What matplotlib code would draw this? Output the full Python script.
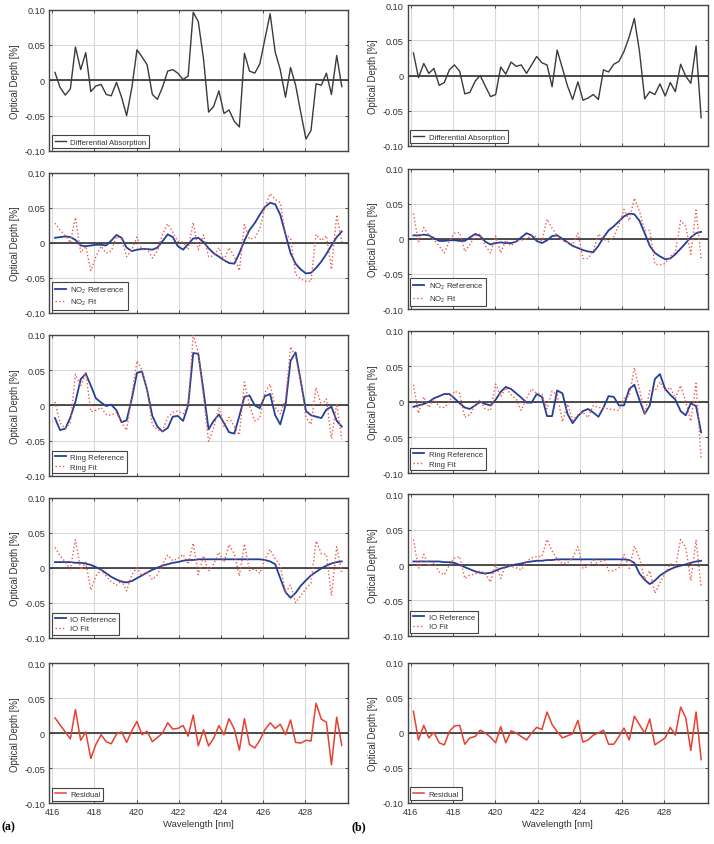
import numpy as np
import matplotlib
matplotlib.use('Agg')
import matplotlib.pyplot as plt

plt.rcParams['font.family'] = ['Liberation Sans', 'DejaVu Sans']
plt.rcParams['mathtext.fontset'] = 'custom'
plt.rcParams['mathtext.rm'] = 'Liberation Sans'
plt.rcParams['mathtext.it'] = 'Liberation Sans:italic'

# wavelength grid of the fit window [nm]
wavelength = [416.13, 416.37, 416.62, 416.86, 417.10, 417.35, 417.59, 417.83, 418.07, 418.32,
              418.56, 418.80, 419.05, 419.29, 419.53, 419.78, 420.02, 420.26, 420.50, 420.75,
              420.99, 421.23, 421.48, 421.72, 421.96, 422.21, 422.45, 422.69, 422.93, 423.18,
              423.42, 423.66, 423.91, 424.15, 424.39, 424.64, 424.88, 425.12, 425.36, 425.61,
              425.85, 426.09, 426.34, 426.58, 426.82, 427.07, 427.31, 427.55, 427.79, 428.04,
              428.28, 428.52, 428.77, 429.01, 429.25, 429.50, 429.74]

# ---- (a) ----
diff_abs_a = [0.011, -0.010, -0.021, -0.012, 0.047, 0.015, 0.039, -0.016, -0.008, -0.006,
              -0.020, -0.022, -0.003, -0.024, -0.050, -0.010, 0.043, 0.033, 0.022, -0.020,
              -0.027, -0.010, 0.013, 0.015, 0.010, 0.001, 0.006, 0.096, 0.083, 0.030,
              -0.045, -0.037, -0.015, -0.047, -0.042, -0.058, -0.066, 0.038, 0.013, 0.010,
              0.023, 0.058, 0.094, 0.040, 0.015, -0.024, 0.018, -0.007, -0.045, -0.083,
              -0.071, -0.005, -0.007, 0.010, -0.020, 0.035, -0.009]
no2_ref_a = [0.007, 0.008, 0.009, 0.008, 0.004, -0.004, -0.005, -0.004, -0.003, -0.003,
             -0.004, 0.003, 0.011, 0.007, -0.007, -0.012, -0.010, -0.009, -0.009, -0.010,
             -0.007, 0.002, 0.012, 0.008, -0.005, -0.010, -0.002, 0.006, 0.007, 0.001,
             -0.008, -0.015, -0.020, -0.025, -0.029, -0.030, -0.015, 0.003, 0.018, 0.028,
             0.040, 0.051, 0.057, 0.055, 0.040, 0.012, -0.015, -0.030, -0.038, -0.044,
             -0.043, -0.036, -0.027, -0.016, -0.004, 0.008, 0.016]
no2_fit_a = [0.028, 0.018, 0.010, 0.000, 0.036, -0.014, -0.005, -0.040, -0.020, -0.005,
             -0.015, -0.012, 0.009, 0.005, -0.020, -0.010, 0.008, -0.010, -0.009, -0.022,
             -0.012, 0.012, 0.027, 0.015, 0.002, 0.001, -0.010, 0.029, -0.010, 0.011,
             -0.020, -0.019, -0.007, -0.025, -0.007, -0.020, -0.040, 0.026, 0.005, 0.007,
             0.020, 0.050, 0.070, 0.062, 0.057, 0.012, 0.006, -0.045, -0.052, -0.055,
             -0.055, 0.012, 0.003, 0.010, -0.038, 0.040, 0.001]
ring_ref_a = [-0.018, -0.035, -0.033, -0.017, 0.005, 0.037, 0.045, 0.028, 0.010, 0.004,
              -0.001, 0.001, -0.007, -0.024, -0.021, 0.010, 0.046, 0.048, 0.022, -0.015,
              -0.030, -0.037, -0.032, -0.016, -0.015, -0.022, 0.000, 0.074, 0.073, 0.020,
              -0.034, -0.022, -0.013, -0.025, -0.038, -0.040, -0.015, 0.012, 0.014, 0.000,
              -0.004, 0.013, 0.016, -0.014, -0.027, 0.000, 0.063, 0.075, 0.035, -0.008,
              -0.014, -0.016, -0.018, -0.006, -0.002, -0.022, -0.030]
ring_fit_a = [0.005, -0.025, -0.033, -0.024, 0.044, 0.027, 0.047, -0.009, -0.007, -0.003,
              -0.013, -0.014, -0.010, -0.025, -0.035, 0.015, 0.063, 0.050, 0.022, -0.027,
              -0.035, -0.036, -0.017, -0.010, -0.008, -0.012, 0.000, 0.100, 0.075, 0.010,
              -0.051, -0.032, -0.003, -0.030, -0.017, -0.030, -0.042, 0.033, 0.000, -0.022,
              -0.018, 0.018, 0.030, -0.003, -0.012, 0.008, 0.083, 0.068, 0.035, -0.017,
              -0.027, 0.025, 0.000, 0.009, -0.047, 0.002, -0.048]
io_ref_a = [0.008, 0.008, 0.008, 0.008, 0.007, 0.007, 0.006, 0.004, 0.001, -0.003,
            -0.008, -0.013, -0.017, -0.020, -0.021, -0.019, -0.015, -0.011, -0.007, -0.003,
            0.000, 0.003, 0.005, 0.007, 0.008, 0.010, 0.011, 0.011, 0.012, 0.012,
            0.012, 0.012, 0.012, 0.012, 0.012, 0.012, 0.012, 0.012, 0.012, 0.012,
            0.012, 0.011, 0.009, 0.005, -0.015, -0.035, -0.043, -0.036, -0.026, -0.018,
            -0.011, -0.006, -0.001, 0.003, 0.006, 0.008, 0.009]
io_fit_a = [0.029, 0.017, 0.008, -0.002, 0.040, -0.003, 0.008, -0.032, -0.012, -0.003,
            -0.012, -0.020, -0.025, -0.018, -0.033, -0.010, 0.000, -0.012, -0.005, -0.017,
            -0.010, 0.005, 0.018, 0.010, 0.013, 0.019, 0.005, 0.035, -0.010, 0.017,
            -0.005, 0.005, 0.022, 0.008, 0.033, 0.020, -0.012, 0.034, -0.004, -0.002,
            -0.008, 0.012, 0.026, 0.013, 0.003, -0.035, -0.025, -0.050, -0.040, -0.030,
            -0.022, 0.038, 0.020, 0.019, -0.040, 0.030, -0.007]
resid_a = [0.022, 0.012, 0.002, -0.008, 0.034, -0.010, 0.002, -0.036, -0.016, -0.002,
           -0.012, -0.015, -0.001, 0.002, -0.013, 0.004, 0.017, -0.002, 0.003, -0.012,
           -0.006, 0.000, 0.015, 0.006, 0.007, 0.011, -0.004, 0.026, -0.018, 0.005,
           -0.018, -0.007, 0.011, -0.002, 0.021, 0.006, -0.024, 0.021, -0.016, -0.021,
           -0.010, 0.005, 0.015, 0.007, 0.013, -0.002, 0.019, -0.013, -0.014, -0.010,
           -0.011, 0.043, 0.020, 0.016, -0.045, 0.023, -0.017]

# ---- (b) ----
diff_abs_b = [0.032, -0.003, 0.017, 0.003, 0.010, -0.014, -0.010, 0.008, 0.015, 0.006,
              -0.026, -0.024, -0.008, 0.000, -0.015, -0.030, -0.027, 0.012, 0.002, 0.019,
              0.013, 0.015, 0.003, 0.015, 0.027, 0.018, 0.015, -0.016, 0.036, 0.010,
              -0.015, -0.034, -0.009, -0.035, -0.032, -0.027, -0.034, 0.008, 0.005, 0.016,
              0.020, 0.034, 0.055, 0.081, 0.035, -0.033, -0.023, -0.027, -0.012, -0.029,
              -0.010, -0.023, 0.016, -0.001, -0.011, 0.042, -0.060]
no2_ref_b = [0.005, 0.005, 0.006, 0.005, 0.001, -0.003, -0.003, -0.002, -0.002, -0.003,
             -0.003, 0.002, 0.007, 0.004, -0.004, -0.008, -0.006, -0.005, -0.006, -0.006,
             -0.004, 0.002, 0.008, 0.005, -0.003, -0.006, -0.002, 0.004, 0.005, 0.000,
             -0.005, -0.010, -0.013, -0.016, -0.018, -0.019, -0.010, 0.002, 0.012, 0.018,
             0.025, 0.032, 0.036, 0.035, 0.026, 0.008, -0.010, -0.020, -0.025, -0.029,
             -0.028, -0.022, -0.014, -0.006, 0.002, 0.008, 0.010]
no2_fit_b = [0.036, -0.005, 0.016, 0.005, -0.002, -0.010, -0.020, -0.003, 0.008, 0.009,
             -0.018, -0.008, 0.004, 0.007, -0.010, -0.020, 0.004, -0.020, -0.002, -0.010,
             -0.003, -0.002, 0.000, 0.005, 0.003, -0.003, 0.028, 0.015, 0.005, -0.003,
             -0.005, -0.008, 0.008, -0.028, -0.028, -0.017, 0.007, 0.000, -0.004, 0.003,
             0.020, 0.042, 0.026, 0.058, 0.040, 0.012, 0.012, -0.036, -0.037, -0.035,
             -0.025, -0.019, 0.026, 0.018, -0.022, 0.041, -0.028]
ring_ref_b = [-0.007, -0.005, -0.003, 0.000, 0.005, 0.008, 0.011, 0.011, 0.005, -0.002,
              -0.008, -0.010, -0.005, 0.000, -0.003, -0.005, 0.003, 0.014, 0.021, 0.018,
              0.012, 0.006, -0.001, -0.001, 0.011, 0.007, -0.020, -0.020, 0.016, 0.012,
              -0.017, -0.030, -0.020, -0.013, -0.010, -0.015, -0.021, -0.008, 0.008, 0.007,
              -0.005, -0.005, 0.018, 0.024, 0.003, -0.017, -0.005, 0.032, 0.039, 0.018,
              0.010, 0.003, -0.013, -0.019, -0.002, -0.006, -0.043]
ring_fit_b = [0.024, -0.016, 0.007, -0.008, 0.004, -0.007, -0.008, 0.000, 0.015, 0.012,
              -0.022, -0.018, -0.005, 0.003, -0.010, -0.012, 0.025, 0.007, 0.020, 0.010,
              0.004, -0.012, 0.005, 0.018, 0.012, 0.011, -0.010, 0.015, 0.010, -0.028,
              -0.003, -0.026, -0.018, -0.015, -0.022, -0.005, -0.008, -0.008, -0.010, -0.011,
              -0.012, 0.005, 0.008, 0.048, 0.018, -0.018, 0.016, 0.015, 0.028, 0.016,
              0.020, 0.005, 0.023, 0.000, -0.027, 0.026, -0.080]
io_ref_b = [0.005, 0.005, 0.005, 0.005, 0.005, 0.005, 0.004, 0.004, 0.003, 0.000,
            -0.003, -0.006, -0.009, -0.011, -0.012, -0.011, -0.008, -0.005, -0.003, -0.001,
            0.001, 0.002, 0.004, 0.005, 0.006, 0.006, 0.007, 0.007, 0.008, 0.008,
            0.008, 0.008, 0.008, 0.008, 0.008, 0.008, 0.008, 0.008, 0.008, 0.008,
            0.008, 0.008, 0.007, 0.003, -0.012, -0.021, -0.027, -0.022, -0.015, -0.010,
            -0.006, -0.003, -0.001, 0.001, 0.003, 0.005, 0.006]
io_fit_b = [0.036, -0.005, 0.015, -0.002, 0.003, -0.010, -0.014, 0.000, 0.010, 0.012,
            -0.019, -0.014, -0.013, -0.008, -0.013, -0.024, 0.002, -0.019, 0.000, -0.002,
            -0.004, -0.007, 0.005, 0.010, 0.012, 0.012, 0.036, 0.020, 0.008, 0.002,
            0.003, 0.010, 0.026, -0.005, -0.002, 0.007, 0.000, 0.010, -0.008, -0.008,
            -0.004, 0.015, -0.005, 0.027, 0.010, -0.020, -0.008, -0.040, -0.025, -0.012,
            0.002, -0.003, 0.036, 0.025, -0.022, 0.035, -0.030]
resid_b = [0.031, -0.010, 0.011, -0.007, 0.001, -0.014, -0.017, 0.002, 0.010, 0.011,
           -0.016, -0.007, -0.005, 0.004, 0.000, -0.006, -0.014, 0.009, -0.014, 0.003,
           0.000, -0.005, -0.010, 0.000, 0.008, 0.005, 0.030, 0.012, 0.002, -0.007,
           -0.004, -0.001, 0.018, -0.013, -0.010, -0.003, 0.000, 0.004, -0.016, -0.016,
           -0.005, 0.007, -0.010, 0.024, 0.012, 0.000, 0.020, -0.017, -0.012, -0.007,
           0.008, -0.003, 0.037, 0.022, -0.025, 0.030, -0.038]

# line styles
gray = '#3a3a3a'
blue = '#22409a'
fitred = '#f0584a'
resred = '#e8402f'
axcol = '#333333'

W, H = 714, 845
fig = plt.figure(figsize=(W / 100, H / 100), dpi=100)

# panel boxes in pixels: (left, right), list of (top, bottom)
cols = {
    'a': ((49.3, 348.3), [(10.5, 152), (173.7, 313.7), (335.7, 477), (498.7, 638.7), (664.3, 804.3)]),
    'b': ((407.7, 707.7), [(6, 147), (169.7, 310), (331.7, 474), (495.3, 636.7), (664, 804)]),
}

panels = {
    'a': [
        [(diff_abs_a, 'Differential Absorption', dict(color=gray, lw=1.0))],
        [(no2_ref_a, 'NO$_2$ Reference', dict(color=blue, lw=1.3)),
         (no2_fit_a, 'NO$_2$ Fit', dict(color=fitred, lw=1.0, ls=':'))],
        [(ring_ref_a, 'Ring Reference', dict(color=blue, lw=1.3)),
         (ring_fit_a, 'Ring Fit', dict(color=fitred, lw=1.0, ls=':'))],
        [(io_ref_a, 'IO Reference', dict(color=blue, lw=1.3)),
         (io_fit_a, 'IO Fit', dict(color=fitred, lw=1.0, ls=':'))],
        [(resid_a, 'Residual', dict(color=resred, lw=1.1))],
    ],
    'b': [
        [(diff_abs_b, 'Differential Absorption', dict(color=gray, lw=1.0))],
        [(no2_ref_b, 'NO$_2$ Reference', dict(color=blue, lw=1.3)),
         (no2_fit_b, 'NO$_2$ Fit', dict(color=fitred, lw=1.0, ls=':'))],
        [(ring_ref_b, 'Ring Reference', dict(color=blue, lw=1.3)),
         (ring_fit_b, 'Ring Fit', dict(color=fitred, lw=1.0, ls=':'))],
        [(io_ref_b, 'IO Reference', dict(color=blue, lw=1.3)),
         (io_fit_b, 'IO Fit', dict(color=fitred, lw=1.0, ls=':'))],
        [(resid_b, 'Residual', dict(color=resred, lw=1.1))],
    ],
}

for key in ['a', 'b']:
    (xl, xr), rows = cols[key]
    for k, (top, bot) in enumerate(rows):
        ax = fig.add_axes([xl / W, 1 - bot / H, (xr - xl) / W, (bot - top) / H])
        ax.axhline(0, color='#303030', lw=1.2, zorder=1.5)
        for y, lab, st in panels[key][k]:
            ax.plot(wavelength, y, label=lab, zorder=3, **st)
        ax.set_xlim(415.86, 430.05)
        ax.set_ylim(-0.1, 0.1)
        ax.set_xticks([416, 418, 420, 422, 424, 426, 428])
        ax.set_yticks([-0.1, -0.05, 0, 0.05, 0.1])
        ax.set_yticklabels(['-0.10', '-0.05', '0', '0.05', '0.10'])
        ax.grid(True, color='#d9d9d9', lw=0.8)
        ax.set_axisbelow(True)
        ax.tick_params(direction='in', length=2, width=0.6, labelsize=6.6,
                       colors=axcol, pad=3, top=True, right=True)
        for s in ax.spines.values():
            s.set_color('#444444')
            s.set_linewidth(1.0)
        ax.set_ylabel('Optical Depth [%]', fontsize=6.9, color='#333333', labelpad=3)
        if k == 4:
            ax.set_xlabel('Wavelength [nm]', fontsize=6.8, color='#333333', labelpad=2)
        else:
            ax.set_xticklabels([])
        leg = ax.legend(loc='lower left', fontsize=5.6, handlelength=1.4, handletextpad=0.6,
                        borderaxespad=0.35, borderpad=0.35, labelspacing=0.25,
                        fancybox=False, framealpha=1, edgecolor='#444444')
        leg.get_frame().set_linewidth(0.8)
        for t in leg.get_texts():
            t.set_color('#333333')

fig.text(1 / W, 1 - 827 / H, '(a)', family='Liberation Serif', weight='bold',
         fontsize=8.5, va='center', ha='left')
fig.text(352 / W, 1 - 827 / H, '(b)', family='Liberation Serif', weight='bold',
         fontsize=8.5, va='center', ha='left')

fig.savefig('out.png', dpi=100)
